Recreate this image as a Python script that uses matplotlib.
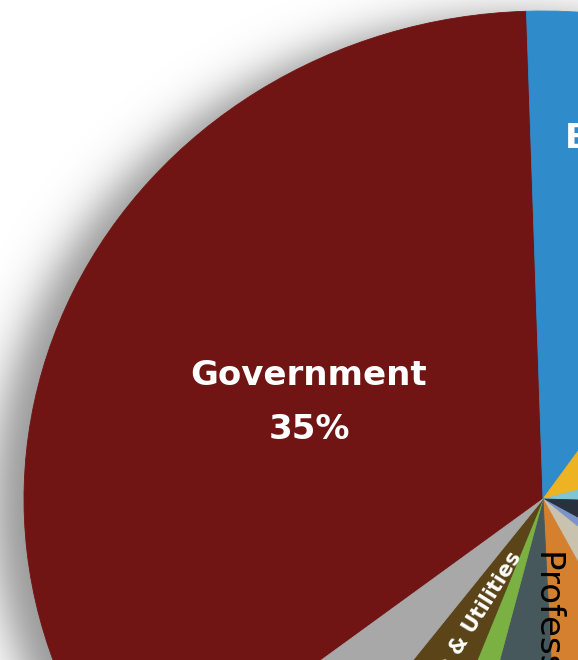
import numpy as np
import matplotlib
matplotlib.use("Agg")
import matplotlib.pyplot as plt

# ---------------- data ----------------
categories = ["Government", "Education & Health", "Retail Trade", "Leisure & Hospitality",
              "Manufacturing", "Finance", "Other Services", "Professional Services",
              "Construction", "Agriculture", "Transportation & Utilities", "Information"]
values = [35.0, 10.1, 11.2, 4.7, 7.9, 2.9, 6.1, 6.9, 4.7, 1.9, 4.5, 4.2]
colors = ["#701414", "#2F8BC9", "#EDB323", "#7EC5D6", "#28313D", "#7B93C9",
          "#C9C2AE", "#D4802F", "#46585C", "#7BB143", "#5A4418", "#A8A8A8"]

# ---------------- layout ----------------
W, H = 578, 660
CX, CY, RX, RY = 543, 499, 519, 488   # pie centre / radii in pixels


def to_data(px, py):
    return (px - CX) / RX, (CY - py) / RY


fig = plt.figure(figsize=(W / 100, H / 100), dpi=100, facecolor="white")
ax = fig.add_axes([0, 0, 1, 1])
ax.set_axis_off()

# soft drop shadow around the pie
X, Y = np.meshgrid(np.arange(W) + 0.5, np.arange(H) + 0.5)
sx, sy = CX - 30, CY + 6
d = (np.sqrt(((X - sx) / RX) ** 2 + ((Y - sy) / RY) ** 2) - 1) * (RX + RY) / 2
alpha = 0.42 / (1 + np.exp(d / 13.0))
shadow = np.zeros((H, W, 4))
shadow[..., 3] = alpha
x0, y0 = to_data(0, 0)
x1, y1 = to_data(W, H)
ax.imshow(shadow, extent=(x0, x1, y1, y0), origin="upper", zorder=0,
          interpolation="bilinear", aspect="auto")

wedges, _ = ax.pie(values, colors=colors, startangle=217.7, counterclock=False,
                   radius=1, center=(0, 0), wedgeprops=dict(linewidth=0))
for w in wedges:
    w.set_edgecolor(w.get_facecolor())
    w.set_linewidth(0.6)
    w.set_zorder(2)

ax.set_aspect("auto")
ax.set_xlim(x0, x1)
ax.set_ylim(y1, y0)

# labels
gx, gy = to_data(309, 385)
ax.text(gx, gy, categories[0], color="white", fontsize=24.5, fontweight="bold",
        ha="center", va="baseline", zorder=5)
gx, gy = to_data(309, 439)
ax.text(gx, gy, f"{round(values[0])}%", color="white", fontsize=24.5, fontweight="bold",
        ha="center", va="baseline", zorder=5)

bx, by = to_data(565, 148)
ax.text(bx, by, categories[1], color="white", fontsize=24.5, fontweight="bold",
        ha="left", va="baseline", zorder=5)

px_, py_ = to_data(550, 549)
ax.text(px_, py_, categories[7], color="black", fontsize=24.5, rotation=-90,
        rotation_mode="anchor", ha="left", va="center", zorder=5)

ux, uy = to_data(517, 553)
ax.text(ux, uy, categories[10], color="white", fontsize=15, fontweight="bold",
        rotation=58, rotation_mode="anchor", ha="right", va="center", zorder=5)

fig.savefig("out.png", dpi=100, facecolor="white")
